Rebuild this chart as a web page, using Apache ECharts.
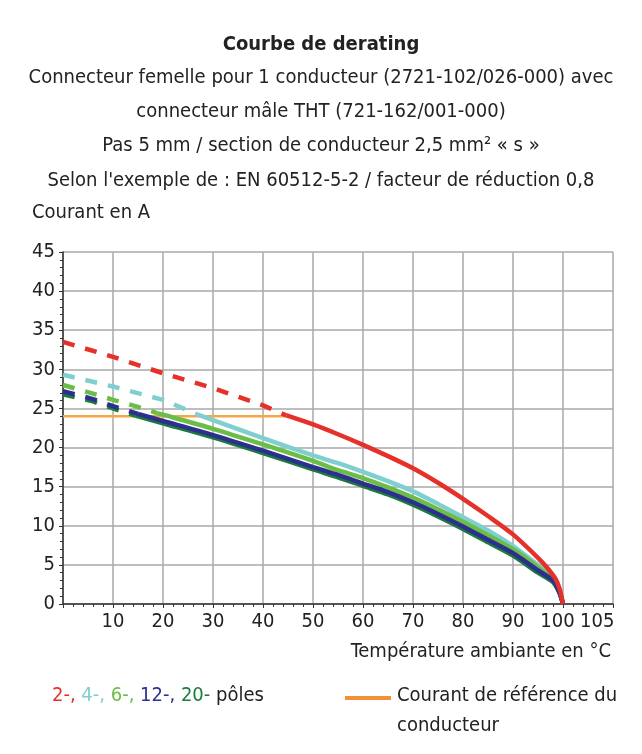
<!DOCTYPE html>
<html>
<head>
<meta charset="utf-8">
<script src="https://cdn.jsdelivr.net/npm/echarts@6/dist/echarts.min.js"></script>
<style>
html,body{margin:0;padding:0;background:#fff;}
#chart{width:642px;height:754px;}
</style>
</head>
<body>
<div id="chart"></div>
<script>
// ---- Data ----
const titleLines = [
  "Courbe de derating",
  "Connecteur femelle pour 1 conducteur (2721-102/026-000) avec",
  "connecteur mâle THT (721-162/001-000)",
  "Pas 5 mm / section de conducteur 2,5 mm² « s »",
  "Selon l'exemple de : EN 60512-5-2 / facteur de réduction 0,8"
];
const yAxisTitle = "Courant en A";
const xAxisTitle = "Température ambiante en °C";
const xTickLabels = [10, 20, 30, 40, 50, 60, 70, 80, 90, 100];
const xExtraTickLabels = [105];

// reference current of the conductor
const refX = [0, 44.7];
const refY = [24, 24];

// 2-pole (red)
const p2DashX = [0, 10, 20, 30, 40, 44.7];
const p2DashY = [33.5, 31.6, 29.5, 27.6, 25.4, 24.1];
const p2X = [44.7, 50, 55, 60, 65, 70, 75, 80, 85, 90, 95, 97, 98.5, 99.3, 100];
const p2Y = [24.1, 22.95, 21.7, 20.35, 18.9, 17.35, 15.5, 13.45, 11.25, 8.9, 5.9, 4.5, 3.2, 2.0, 0];

// 4-pole (cyan)
const p4DashX = [0, 10, 20, 27];
const p4DashY = [29.3, 27.8, 26.1, 24.2];
const p4X = [27, 30, 40, 50, 55, 60, 65, 70, 75, 80, 85, 90, 95, 97, 98.3, 99.3, 100];
const p4Y = [24.2, 23.5, 21.2, 19.0, 18.0, 16.9, 15.7, 14.4, 12.8, 11.1, 9.4, 7.4, 5.0, 4.0, 3.1, 1.7, 0];

// 6-pole (light green)
const p6DashX = [0, 6, 10, 15, 18.8];
const p6DashY = [28.0, 26.9, 26.1, 25.2, 24.4];
const p6X = [18.8, 20, 30, 40, 50, 55, 60, 65, 70, 75, 80, 85, 90, 95, 98, 99.3, 100];
const p6Y = [24.4, 24.2, 22.4, 20.4, 18.3, 17.1, 16.1, 14.9, 13.6, 12.1, 10.5, 8.8, 7.0, 4.7, 3.0, 1.5, 0];

// 12-pole (dark blue)
const p12DashX = [0, 6, 10, 15];
const p12DashY = [27.2, 26.2, 25.3, 24.3];
const p12X = [15, 20, 30, 40, 50, 55, 60, 65, 70, 75, 80, 85, 90, 95, 98, 99.3, 100];
const p12Y = [24.3, 23.4, 21.6, 19.6, 17.5, 16.5, 15.4, 14.3, 13.0, 11.5, 9.9, 8.2, 6.5, 4.3, 3.0, 1.5, 0];

// 20-pole (dark green)
const p20DashX = [0, 6, 10, 14.5];
const p20DashY = [26.8, 25.9, 25.0, 24.1];
const p20X = [14.5, 20, 30, 40, 50, 55, 60, 65, 70, 75, 80, 85, 90, 95, 98, 99.3, 100];
const p20Y = [24.1, 23.1, 21.3, 19.3, 17.2, 16.2, 15.1, 14.0, 12.7, 11.2, 9.6, 7.9, 6.2, 4.0, 2.8, 1.4, 0];

// ---- Styles ----
const FONT = "'DejaVu Sans Condensed', 'Liberation Sans Narrow', 'Roboto', sans-serif";
const FS = 20;
const C = {
  red: '#e6312a', cyan: '#80cfd0', green: '#6cbd47', blue: '#2d2f8e', dgreen: '#1a7b3c',
  ref: '#f6a845', refLegend: '#f39137', text: '#222222', grid: '#a8a8a8', axis: '#333333'
};
const zip = (xs, ys) => xs.map((x, i) => [x, ys[i]]);
const DASH = [12, 11];

function dashed(name, xs, ys, color, z) {
  return { name, type: 'line', data: zip(xs, ys), showSymbol: false, z,
    lineStyle: { color, width: 4.5, type: DASH }, silent: true, animation: false };
}
function solid(name, xs, ys, color, z) {
  return { name, type: 'line', data: zip(xs, ys), showSymbol: false, z,
    smooth: 0.25,
    lineStyle: { color, width: 4.5 }, silent: true, animation: false };
}

const chart = echarts.init(document.getElementById('chart'), null, { renderer: 'canvas' });

const F = FS + 'px ' + FONT;
const titleY = [47, 80, 114, 148, 183];
const graphics = titleLines.map((t, i) => ({
  type: 'text', left: 'center', top: titleY[i] - 12,
  style: { text: t, font: (i === 0 ? 'bold ' : '') + F, fill: C.text }
}));
graphics.push({ type: 'text', left: 32, top: 203, style: { text: yAxisTitle, font: F, fill: C.text } });
graphics.push({ type: 'text', right: 31, top: 642, style: { text: xAxisTitle, font: F, fill: C.text } });
// legend
graphics.push({
  type: 'text', left: 52, top: 686,
  style: {
    text: '{r|2-,} {c|4-,} {g|6-,} {b|12-,} {d|20-} {t|pôles}',
    font: F,
    rich: {
      r: { fill: C.red, font: F },
      c: { fill: C.cyan, font: F },
      g: { fill: C.green, font: F },
      b: { fill: C.blue, font: F },
      d: { fill: C.dgreen, font: F },
      t: { fill: C.text, font: F }
    }
  }
});
graphics.push({ type: 'line', shape: { x1: 345, y1: 698, x2: 391, y2: 698 }, style: { stroke: C.refLegend, lineWidth: 4 } });
graphics.push({ type: 'text', left: 397, top: 686, style: { text: 'Courant de référence du', font: F, fill: C.text } });
graphics.push({ type: 'text', left: 397, top: 716, style: { text: 'conducteur', font: F, fill: C.text } });

const xCommon = {
  type: 'value', min: 0, max: 110, interval: 10, gridIndex: 0, position: 'bottom'
};

const option = {
  backgroundColor: '#ffffff',
  animation: false,
  grid: { left: 63, right: 29, top: 252, bottom: 150, containLabel: false },
  xAxis: [
    Object.assign({}, xCommon, {
      axisLine: { show: true, onZero: false, lineStyle: { color: C.axis, width: 1.5 } },
      axisTick: { show: true, length: 4, lineStyle: { color: C.axis } },
      minorTick: { show: true, splitNumber: 5, length: 3, lineStyle: { color: C.axis } },
      splitLine: { show: true, lineStyle: { color: C.grid, width: 1.5 } },
      axisLabel: {
        customValues: xTickLabels, interval: 0,
        fontFamily: FONT, fontSize: FS, color: C.text, margin: 8,
        formatter: v => (v === 100 ? '{s|' + v + '}' : String(v)),
        rich: { s: { fontFamily: FONT, fontSize: FS, color: C.text, padding: [0, 11, 0, 0] } }
      }
    }),
    Object.assign({}, xCommon, {
      axisLine: { show: false, onZero: false },
      axisTick: { show: false },
      splitLine: { show: false },
      axisLabel: {
        customValues: xExtraTickLabels, interval: 0,
        fontFamily: FONT, fontSize: FS, color: C.text, margin: 8, align: 'left', padding: [0, 0, 0, -8]
      }
    })
  ],
  yAxis: {
    type: 'value', min: 0, max: 45, interval: 5,
    axisLine: { show: true, lineStyle: { color: C.axis, width: 1.5 } },
    axisTick: { show: true, length: 4, lineStyle: { color: C.axis } },
    minorTick: { show: true, splitNumber: 5, length: 3, lineStyle: { color: C.axis } },
    splitLine: { show: true, lineStyle: { color: C.grid, width: 1.5 } },
    axisLabel: { fontFamily: FONT, fontSize: FS, color: C.text, margin: 8 }
  },
  series: [
    { name: 'ref', type: 'line', data: zip(refX, refY), showSymbol: false, z: 1,
      lineStyle: { color: C.ref, width: 2.5 }, silent: true },
    dashed('4d', p4DashX, p4DashY, C.cyan, 2), solid('4', p4X, p4Y, C.cyan, 2),
    dashed('6d', p6DashX, p6DashY, C.green, 3), solid('6', p6X, p6Y, C.green, 3),
    dashed('20d', p20DashX, p20DashY, C.dgreen, 4), solid('20', p20X, p20Y, C.dgreen, 4),
    dashed('12d', p12DashX, p12DashY, C.blue, 5), solid('12', p12X, p12Y, C.blue, 5),
    dashed('2d', p2DashX, p2DashY, C.red, 6), solid('2', p2X, p2Y, C.red, 6)
  ],
  graphic: graphics
};
chart.setOption(option);
</script>
</body>
</html>
